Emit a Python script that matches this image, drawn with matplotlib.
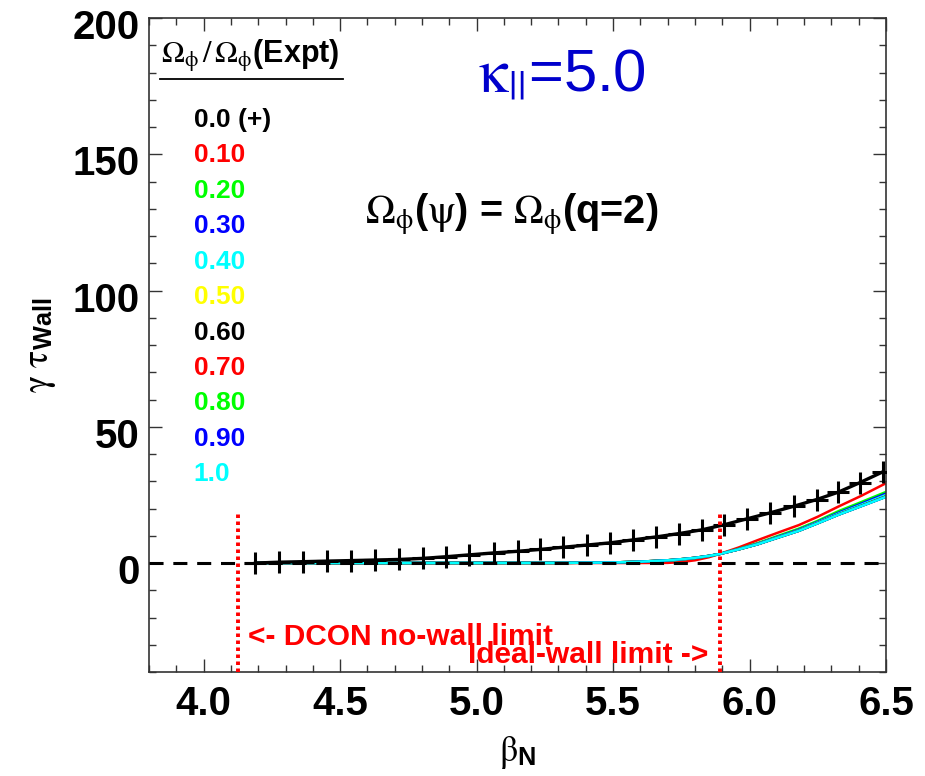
import matplotlib
matplotlib.use('Agg')
import matplotlib.pyplot as plt
import matplotlib.transforms as mtransforms
from matplotlib.ticker import MultipleLocator, FormatStrFormatter

plt.rcParams['font.family'] = ['Liberation Sans', 'DejaVu Sans']
plt.rcParams['font.weight'] = 'bold'
# greek letters in a serif face, normal weight; bold subscripts in sans
plt.rcParams['mathtext.fontset'] = 'custom'
plt.rcParams['mathtext.rm'] = 'STIXGeneral:weight=normal'
plt.rcParams['mathtext.it'] = 'STIXGeneral:style=italic:weight=normal'
plt.rcParams['mathtext.bf'] = 'Liberation Sans:weight=bold'

# ---------------- data ----------------
# Omega = 0.0 (black, + markers)
beta_0 = [4.190, 4.277, 4.365, 4.453, 4.540, 4.628, 4.715, 4.803, 4.887, 4.974,
          5.062, 5.150, 5.234, 5.318, 5.405, 5.489, 5.574, 5.659, 5.741, 5.826,
          5.905, 5.990, 6.075, 6.161, 6.246, 6.325, 6.404, 6.489]
gam_0 = [0.0, 0.3, 0.5, 0.7, 0.9, 1.1, 1.3, 1.7, 2.3, 3.0,
         3.7, 4.3, 5.0, 5.8, 6.6, 7.4, 8.5, 9.6, 10.8, 12.2,
         14.0, 16.2, 18.4, 20.8, 23.3, 26.0, 29.5, 33.5]

# Omega = 0.10 ... 1.0
beta_c = [4.19, 5.30, 5.50, 5.60, 5.70, 5.75, 5.80, 5.85, 5.89, 5.96,
          6.03, 6.10, 6.18, 6.25, 6.325, 6.41, 6.50]
gam_010 = [0, 0, 0, 0, 0.05, 0.35, 1.0, 2.1, 3.3, 5.7, 8.4, 11.0, 13.9, 17.0, 20.7, 24.7, 29.3]
gam_020 = [0, 0.03, 0.15, 0.4, 0.85, 1.25, 1.8, 2.5, 3.3, 5.2, 7.3, 9.8, 12.6, 15.5, 19.0, 22.4, 26.1]
gam_030 = [0, 0.04, 0.17, 0.45, 0.9, 1.3, 1.85, 2.55, 3.3, 5.1, 7.1, 9.5, 12.2, 15.1, 18.4, 21.8, 25.5]
gam_040 = [0, 0.05, 0.2, 0.5, 0.95, 1.35, 1.9, 2.6, 3.3, 5.05, 7.0, 9.35, 12.0, 14.9, 18.1, 21.4, 25.0]
gam_050 = [0, 0.05, 0.2, 0.5, 1.0, 1.4, 1.9, 2.6, 3.3, 5.0, 6.95, 9.25, 11.85, 14.7, 17.8, 21.0, 24.5]
gam_060 = [0, 0.05, 0.2, 0.5, 1.0, 1.4, 1.9, 2.6, 3.3, 5.0, 6.9, 9.25, 11.85, 14.65, 17.75, 21.0, 24.45]
gam_070 = [0, 0.05, 0.2, 0.5, 1.0, 1.4, 1.9, 2.6, 3.3, 5.0, 6.9, 9.2, 11.8, 14.65, 17.75, 20.95, 24.4]
gam_080 = [0, 0.05, 0.2, 0.5, 1.0, 1.4, 1.9, 2.6, 3.3, 5.0, 6.9, 9.2, 11.8, 14.6, 17.7, 20.95, 24.35]
gam_090 = [0, 0.05, 0.2, 0.5, 1.0, 1.4, 1.9, 2.6, 3.3, 5.0, 6.9, 9.2, 11.8, 14.6, 17.7, 20.9, 24.3]
gam_100 = [0, 0.05, 0.2, 0.5, 1.0, 1.4, 1.9, 2.6, 3.3, 5.0, 6.9, 9.2, 11.8, 14.6, 17.7, 20.9, 24.3]

curves = [gam_010, gam_020, gam_030, gam_040, gam_050,
          gam_060, gam_070, gam_080, gam_090, gam_100]
curve_colors = ['red', 'lime', 'blue', 'cyan', 'yellow',
                'black', 'red', 'lime', 'blue', 'cyan']
legend_labels = ['0.0 (+)', '0.10', '0.20', '0.30', '0.40', '0.50',
                 '0.60', '0.70', '0.80', '0.90', '1.0']
legend_colors = ['black'] + curve_colors

nowall_limit = 4.125
idealwall_limit = 5.89

# ---------------- plot ----------------
fig = plt.figure(figsize=(9.25, 7.76), dpi=100)
ax = fig.add_axes([0.1611, 0.1340, 0.7968, 0.8428])

for g, c in zip(curves, curve_colors):
    ax.plot(beta_c, g, color=c, lw=1.8, zorder=2)

ax.axhline(0, color='black', lw=2.2, ls=(0, (4.6, 3.2)), zorder=3)
ax.plot(beta_0, gam_0, color='black', lw=2.4, marker='+', ms=15.5, mew=2.2, zorder=4)

for xv in [nowall_limit, idealwall_limit]:
    ax.plot([xv, xv], [-40, 19], color='red', lw=2.8, ls=(0, (0.9, 0.9)), zorder=5)

ax.set_xlim(3.8, 6.5)
ax.set_ylim(-40, 200)
ax.xaxis.set_major_locator(MultipleLocator(0.5))
ax.xaxis.set_minor_locator(MultipleLocator(0.1))
ax.xaxis.set_major_formatter(FormatStrFormatter('%.1f'))
ax.yaxis.set_major_locator(MultipleLocator(50))
ax.yaxis.set_minor_locator(MultipleLocator(10))
ax.tick_params(which='both', direction='in', top=True, right=True, width=1.0, color='#333333')
ax.tick_params(which='major', length=9.5, labelsize=29)
ax.tick_params(which='minor', length=5)
ax.tick_params(axis='x', which='major', pad=9)
ax.tick_params(axis='y', which='major', pad=7)
for sp in ax.spines.values():
    sp.set_linewidth(1.2)
    sp.set_color('#333333')

# shift y tick labels down a little, as in the original
off = mtransforms.ScaledTranslation(0, -6 / 100, fig.dpi_scale_trans)
for lab in ax.get_yticklabels():
    lab.set_transform(lab.get_transform() + off)

ax.set_xlabel(r'$\mathrm{\beta}_{\mathbf{N}}$', fontsize=26, labelpad=8)
ax.set_ylabel(r'$\mathrm{\gamma}\ \mathrm{\tau}_{\mathbf{Wall}}$', fontsize=26, labelpad=10)

# legend block
ax.text(3.843, 183.7, r'$\Omega_{\mathrm{\phi}}\,/\,\Omega_{\mathrm{\phi}}$(Expt)',
        fontsize=22, ha='left', va='baseline')
ax.plot([0.0152, 0.2627], [0.9073, 0.9073], color='black', lw=1.3,
        transform=ax.transAxes, clip_on=False)
for i, (lab, c) in enumerate(zip(legend_labels, legend_colors)):
    ax.text(3.964, 160 - 13 * i, lab, color=c, fontsize=19, ha='left', va='baseline')

ax.text(5.004, 172.7, r'$\mathrm{\kappa}_{||}$=5.0', color='#0000cc', fontsize=43,
        fontweight='normal', ha='left', va='baseline')
ax.text(4.591, 124.7, r'$\Omega_{\mathrm{\phi}}$($\mathrm{\psi}$) = $\Omega_{\mathrm{\phi}}$(q=2)',
        fontsize=28.5, ha='left', va='baseline')

ax.text(4.161, -30.1, '<- DCON no-wall limit', color='red', fontsize=21.5,
        ha='left', va='baseline')
ax.text(5.850, -36.7, 'Ideal-wall limit ->', color='red', fontsize=21.5,
        ha='right', va='baseline')

fig.savefig('out.png', dpi=100)
